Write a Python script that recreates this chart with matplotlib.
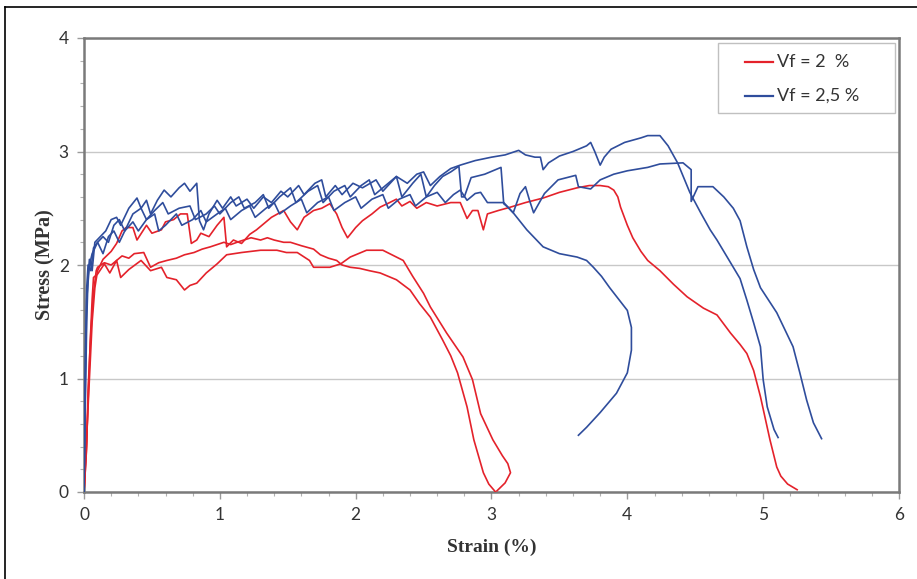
import matplotlib.pyplot as plt
from matplotlib.lines import Line2D
from matplotlib.patches import Rectangle

# Vf = 2 % specimens (strain %, stress MPa)
red_a_strain = [0, 0.02, 0.03, 0.05, 0.07, 0.09, 0.1, 0.15, 0.2, 0.24, 0.28, 0.33, 0.37, 0.44, 0.49, 0.55,
                0.61, 0.68, 0.74, 0.81, 0.87, 0.93, 0.98, 1.03, 1.08, 1.15, 1.23, 1.3, 1.35, 1.4, 1.47, 1.52,
                1.6, 1.69, 1.74, 1.8, 1.86, 1.9, 1.96, 2.03, 2.1, 2.18, 2.3, 2.4, 2.47, 2.55, 2.64, 2.7,
                2.75, 2.82, 2.87, 2.94, 2.98, 3.03]
red_a_stress = [0, 0.4, 0.9, 1.4, 1.75, 1.95, 1.98, 2.02, 2.0, 2.04, 2.08, 2.06, 2.1, 2.11, 1.98, 2.02,
                2.04, 2.06, 2.09, 2.11, 2.14, 2.16, 2.18, 2.2, 2.18, 2.21, 2.24, 2.22, 2.24, 2.22, 2.2, 2.2,
                2.17, 2.14, 2.09, 2.06, 2.04, 2.0, 1.98, 1.97, 1.95, 1.93, 1.87, 1.78, 1.66, 1.54, 1.34, 1.2,
                1.05, 0.75, 0.46, 0.17, 0.07, 0.0]

red_b_strain = [0, 0.015, 0.03, 0.045, 0.06, 0.07, 0.1, 0.15, 0.19, 0.24, 0.27, 0.33, 0.42, 0.49, 0.57,
                0.61, 0.68, 0.74, 0.78, 0.83, 0.9, 0.98, 1.05, 1.16, 1.3, 1.42, 1.49, 1.57, 1.66, 1.69, 1.81,
                1.89, 1.96, 2.08, 2.2, 2.3, 2.35, 2.42, 2.5, 2.55, 2.67, 2.79, 2.86, 2.92, 3.01, 3.08, 3.12,
                3.14, 3.1, 3.04]
red_b_stress = [0, 0.3, 0.8, 1.3, 1.7, 1.89, 1.92, 2.01, 1.93, 2.04, 1.89, 1.96, 2.04, 1.95, 1.98,
                1.89, 1.87, 1.78, 1.82, 1.84, 1.93, 2.01, 2.09, 2.11, 2.13, 2.13, 2.11, 2.11, 2.04, 1.98, 1.98,
                2.01, 2.07, 2.13, 2.13, 2.07, 2.04, 1.9, 1.75, 1.63, 1.4, 1.19, 0.99, 0.69, 0.46, 0.32, 0.25,
                0.17, 0.08, 0.01]

red_c_strain = [0, 0.02, 0.04, 0.06, 0.08, 0.1, 0.14, 0.2, 0.24, 0.28, 0.31, 0.36, 0.39, 0.46, 0.5, 0.57,
                0.6, 0.66, 0.71, 0.76, 0.79, 0.83, 0.86, 0.92, 0.98, 1.03, 1.05, 1.1, 1.16, 1.22, 1.27, 1.32,
                1.38, 1.47, 1.52, 1.57, 1.62, 1.69, 1.75, 1.81, 1.86, 1.9, 1.94, 2.0, 2.05, 2.12, 2.18, 2.25,
                2.3, 2.34, 2.4, 2.45, 2.52, 2.6, 2.7, 2.77, 2.82, 2.86, 2.9, 2.94, 2.97, 3.05, 3.14, 3.25,
                3.38, 3.5, 3.63, 3.72, 3.8, 3.86, 3.9, 3.93, 3.95, 4.0, 4.04, 4.1, 4.15, 4.24, 4.34, 4.44,
                4.56, 4.66, 4.76, 4.83, 4.88, 4.93, 4.98, 5.05, 5.1, 5.13, 5.18, 5.25]
red_c_stress = [0, 0.5, 1.0, 1.5, 1.8, 1.95, 2.05, 2.12, 2.19, 2.3, 2.33, 2.33, 2.22, 2.35, 2.28, 2.31,
                2.38, 2.4, 2.45, 2.45, 2.19, 2.22, 2.28, 2.25, 2.35, 2.42, 2.16, 2.22, 2.19, 2.27, 2.31, 2.36,
                2.42, 2.48, 2.38, 2.31, 2.42, 2.48, 2.5, 2.54, 2.45, 2.33, 2.24, 2.33, 2.39, 2.45, 2.51, 2.55,
                2.58, 2.52, 2.56, 2.5, 2.55, 2.52, 2.55, 2.55, 2.41, 2.48, 2.48, 2.31, 2.45, 2.48, 2.51, 2.55,
                2.59, 2.64, 2.68, 2.7, 2.7, 2.69, 2.66, 2.6, 2.51, 2.35, 2.24, 2.12, 2.04, 1.95, 1.83, 1.72,
                1.62, 1.56, 1.4, 1.3, 1.22, 1.07, 0.84, 0.46, 0.22, 0.14, 0.07, 0.02]

# Vf = 2,5 % specimens
blue_a_strain = [0, 0.01, 0.02, 0.03, 0.05, 0.07, 0.1, 0.14, 0.18, 0.22, 0.26, 0.3, 0.36, 0.4, 0.46, 0.52,
                 0.55, 0.6, 0.68, 0.72, 0.8, 0.86, 0.9, 0.98, 1.04, 1.08, 1.16, 1.22, 1.26, 1.34, 1.4, 1.44,
                 1.52, 1.6, 1.64, 1.72, 1.8, 1.84, 1.92, 2.0, 2.04, 2.12, 2.2, 2.24, 2.32, 2.4, 2.44, 2.52,
                 2.6, 2.66, 2.72, 2.77, 2.82, 2.88, 2.92, 2.97, 3.09, 3.16, 3.26, 3.38, 3.5, 3.63, 3.7, 3.75,
                 3.81, 3.87, 4.0, 4.03, 4.03, 4.0, 3.92, 3.8, 3.7, 3.64]
blue_a_stress = [0, 1.2, 1.8, 2.0, 1.95, 2.15, 2.2, 2.1, 2.25, 2.3, 2.2, 2.3, 2.38, 2.3, 2.4, 2.45,
                 2.3, 2.35, 2.45, 2.35, 2.4, 2.48, 2.38, 2.45, 2.5, 2.4, 2.48, 2.52, 2.42, 2.5, 2.55, 2.45,
                 2.52, 2.58, 2.46, 2.55, 2.6, 2.48, 2.55, 2.6, 2.5, 2.58, 2.62, 2.5, 2.58, 2.62, 2.52, 2.6,
                 2.64, 2.55, 2.62, 2.66, 2.57, 2.63, 2.64, 2.55, 2.55, 2.46, 2.31, 2.16, 2.1, 2.07, 2.04, 1.98,
                 1.9, 1.8, 1.6, 1.45, 1.25, 1.05, 0.87, 0.7, 0.57, 0.5]

blue_b_strain = [0, 0.01, 0.02, 0.03, 0.04, 0.06, 0.08, 0.12, 0.16, 0.2, 0.24, 0.27, 0.33, 0.39, 0.42, 0.46,
                 0.49, 0.54, 0.59, 0.64, 0.7, 0.74, 0.78, 0.83, 0.85, 0.88, 0.92, 0.98, 1.02, 1.08, 1.12, 1.2,
                 1.25, 1.32, 1.38, 1.45, 1.5, 1.58, 1.62, 1.7, 1.75, 1.78, 1.85, 1.9, 1.98, 2.05, 2.15, 2.2,
                 2.3, 2.38, 2.45, 2.5, 2.55, 2.62, 2.7, 2.77, 2.88, 3.0, 3.1, 3.2, 3.25, 3.32, 3.36, 3.38,
                 3.42, 3.5, 3.6, 3.7, 3.73, 3.76, 3.8, 3.83, 3.88, 3.98, 4.1, 4.15, 4.24, 4.3, 4.37, 4.46,
                 4.54, 4.61, 4.66, 4.71, 4.78, 4.83, 4.88, 4.93, 4.98, 5.0, 5.03, 5.08, 5.11]
blue_b_stress = [0, 0.8, 1.5, 1.9, 2.05, 1.95, 2.2, 2.25, 2.3, 2.4, 2.42, 2.35, 2.5, 2.59, 2.5, 2.57,
                 2.45, 2.57, 2.66, 2.6, 2.68, 2.72, 2.65, 2.72, 2.39, 2.31, 2.45, 2.57, 2.5, 2.6, 2.52, 2.58,
                 2.5, 2.6, 2.55, 2.65, 2.6, 2.7, 2.62, 2.72, 2.75, 2.6, 2.7, 2.62, 2.72, 2.68, 2.75, 2.65,
                 2.78, 2.72, 2.8, 2.82, 2.7, 2.78, 2.85, 2.88, 2.92, 2.95, 2.97, 3.01, 2.97, 2.95, 2.95, 2.84,
                 2.9, 2.96, 3.0, 3.05, 3.08, 3.0, 2.88, 2.95, 3.02, 3.08, 3.12, 3.14, 3.14, 3.05, 2.9, 2.64,
                 2.46, 2.31, 2.22, 2.12, 1.98, 1.88, 1.69, 1.49, 1.28, 0.99, 0.75, 0.55, 0.48]

blue_c_strain = [0, 0.01, 0.02, 0.04, 0.06, 0.1, 0.14, 0.18, 0.22, 0.26, 0.3, 0.36, 0.42, 0.46, 0.52, 0.58,
                 0.62, 0.7, 0.78, 0.82, 0.9, 0.96, 1.0, 1.08, 1.14, 1.18, 1.26, 1.32, 1.36, 1.44, 1.52, 1.56,
                 1.65, 1.72, 1.76, 1.84, 1.92, 1.96, 2.04, 2.1, 2.14, 2.22, 2.3, 2.34, 2.42, 2.48, 2.52, 2.58,
                 2.64, 2.7, 2.76, 2.78, 2.8, 2.85, 2.95, 3.07, 3.09, 3.12, 3.16, 3.21, 3.25, 3.28, 3.31, 3.39,
                 3.49, 3.62, 3.64, 3.73, 3.8, 3.9, 4.0, 4.15, 4.24, 4.41, 4.47, 4.47, 4.52, 4.63, 4.71, 4.78,
                 4.83, 4.88, 4.93, 4.98, 5.1, 5.22, 5.27, 5.32, 5.37, 5.43]
blue_c_stress = [0, 1.0, 1.7, 2.0, 2.1, 2.2, 2.25, 2.2, 2.35, 2.4, 2.3, 2.45, 2.5, 2.4, 2.48, 2.55,
                 2.45, 2.5, 2.52, 2.4, 2.45, 2.52, 2.45, 2.55, 2.6, 2.5, 2.55, 2.62, 2.5, 2.6, 2.68, 2.55,
                 2.65, 2.7, 2.55, 2.65, 2.7, 2.6, 2.7, 2.75, 2.62, 2.7, 2.78, 2.6, 2.72, 2.8, 2.6, 2.7,
                 2.78, 2.82, 2.87, 2.6, 2.6, 2.77, 2.8, 2.86, 2.54, 2.51, 2.46, 2.63, 2.69, 2.57, 2.46, 2.63,
                 2.75, 2.79, 2.69, 2.67, 2.75, 2.8, 2.83, 2.86, 2.89, 2.9, 2.84, 2.56, 2.69, 2.69, 2.6, 2.5,
                 2.39, 2.16, 1.96, 1.8, 1.58, 1.28, 1.05, 0.81, 0.61, 0.47]

legend_labels = ['Vf = 2  %', 'Vf = 2,5 %']

red = '#e4222b'
blue = '#2f4d9c'

fig = plt.figure(figsize=(9.17, 5.79), dpi=100)
ax = fig.add_axes([84 / 917, 1 - 492 / 579, 815 / 917, 454 / 579])

for xs, ys in [(red_a_strain, red_a_stress), (red_b_strain, red_b_stress), (red_c_strain, red_c_stress)]:
    ax.plot(xs, ys, color=red, lw=1.2, zorder=3)
for xs, ys in [(blue_a_strain, blue_a_stress), (blue_b_strain, blue_b_stress), (blue_c_strain, blue_c_stress)]:
    ax.plot(xs, ys, color=blue, lw=1.2, zorder=3)

ax.set_xlim(0, 6)
ax.set_ylim(0, 4)
ax.set_xticks(range(0, 7))
ax.set_yticks(range(0, 5))
ax.set_xticks([i * 0.2 for i in range(31)], minor=True)
ax.set_yticks([i * 0.2 for i in range(21)], minor=True)
ax.grid(axis='y', which='major', color='#c8c8c8', lw=1)
ax.set_axisbelow(True)
for s in ax.spines.values():
    s.set_color('#7a7a7a')
    s.set_linewidth(1.8)
ax.tick_params(which='major', direction='out', length=5, width=1, color='#9a9a9a',
               labelsize=12.5, labelcolor='#333333', pad=6)
ax.tick_params(which='minor', direction='out', length=3, width=0.8, color='#b0b0b0')
for lab in ax.get_xticklabels() + ax.get_yticklabels():
    lab.set_fontfamily('Lato')

ax.set_xlabel('Strain (%)', fontfamily='Liberation Serif', fontweight='bold', fontsize=14,
              color='#333333', labelpad=11)
ax.set_ylabel('Stress (MPa)', fontfamily='Liberation Serif', fontweight='bold', fontsize=14.5,
              color='#333333', labelpad=2)

# legend box drawn by hand to match the original placement
ax.add_patch(Rectangle((0.778, 0.835), 0.217, 0.154, transform=ax.transAxes, facecolor='white',
                       edgecolor='#c0c0c0', lw=1, zorder=5))
for yy, col, lab in [(0.947, red, legend_labels[0]), (0.872, blue, legend_labels[1])]:
    ax.add_line(Line2D([0.811, 0.845], [yy, yy], transform=ax.transAxes, color=col, lw=1.6, zorder=6))
    ax.text(0.850, yy, lab, transform=ax.transAxes, va='center', ha='left', fontfamily='Lato',
            fontsize=13, color='#333333', zorder=6)

# outer frame of the figure
fig.add_artist(Line2D([5 / 917, 5 / 917], [0, 1 - 7 / 579], color='black', lw=1.2, transform=fig.transFigure))
fig.add_artist(Line2D([5 / 917, 1], [1 - 7 / 579, 1 - 7 / 579], color='black', lw=1.2, transform=fig.transFigure))

fig.savefig('out.png', dpi=100)
